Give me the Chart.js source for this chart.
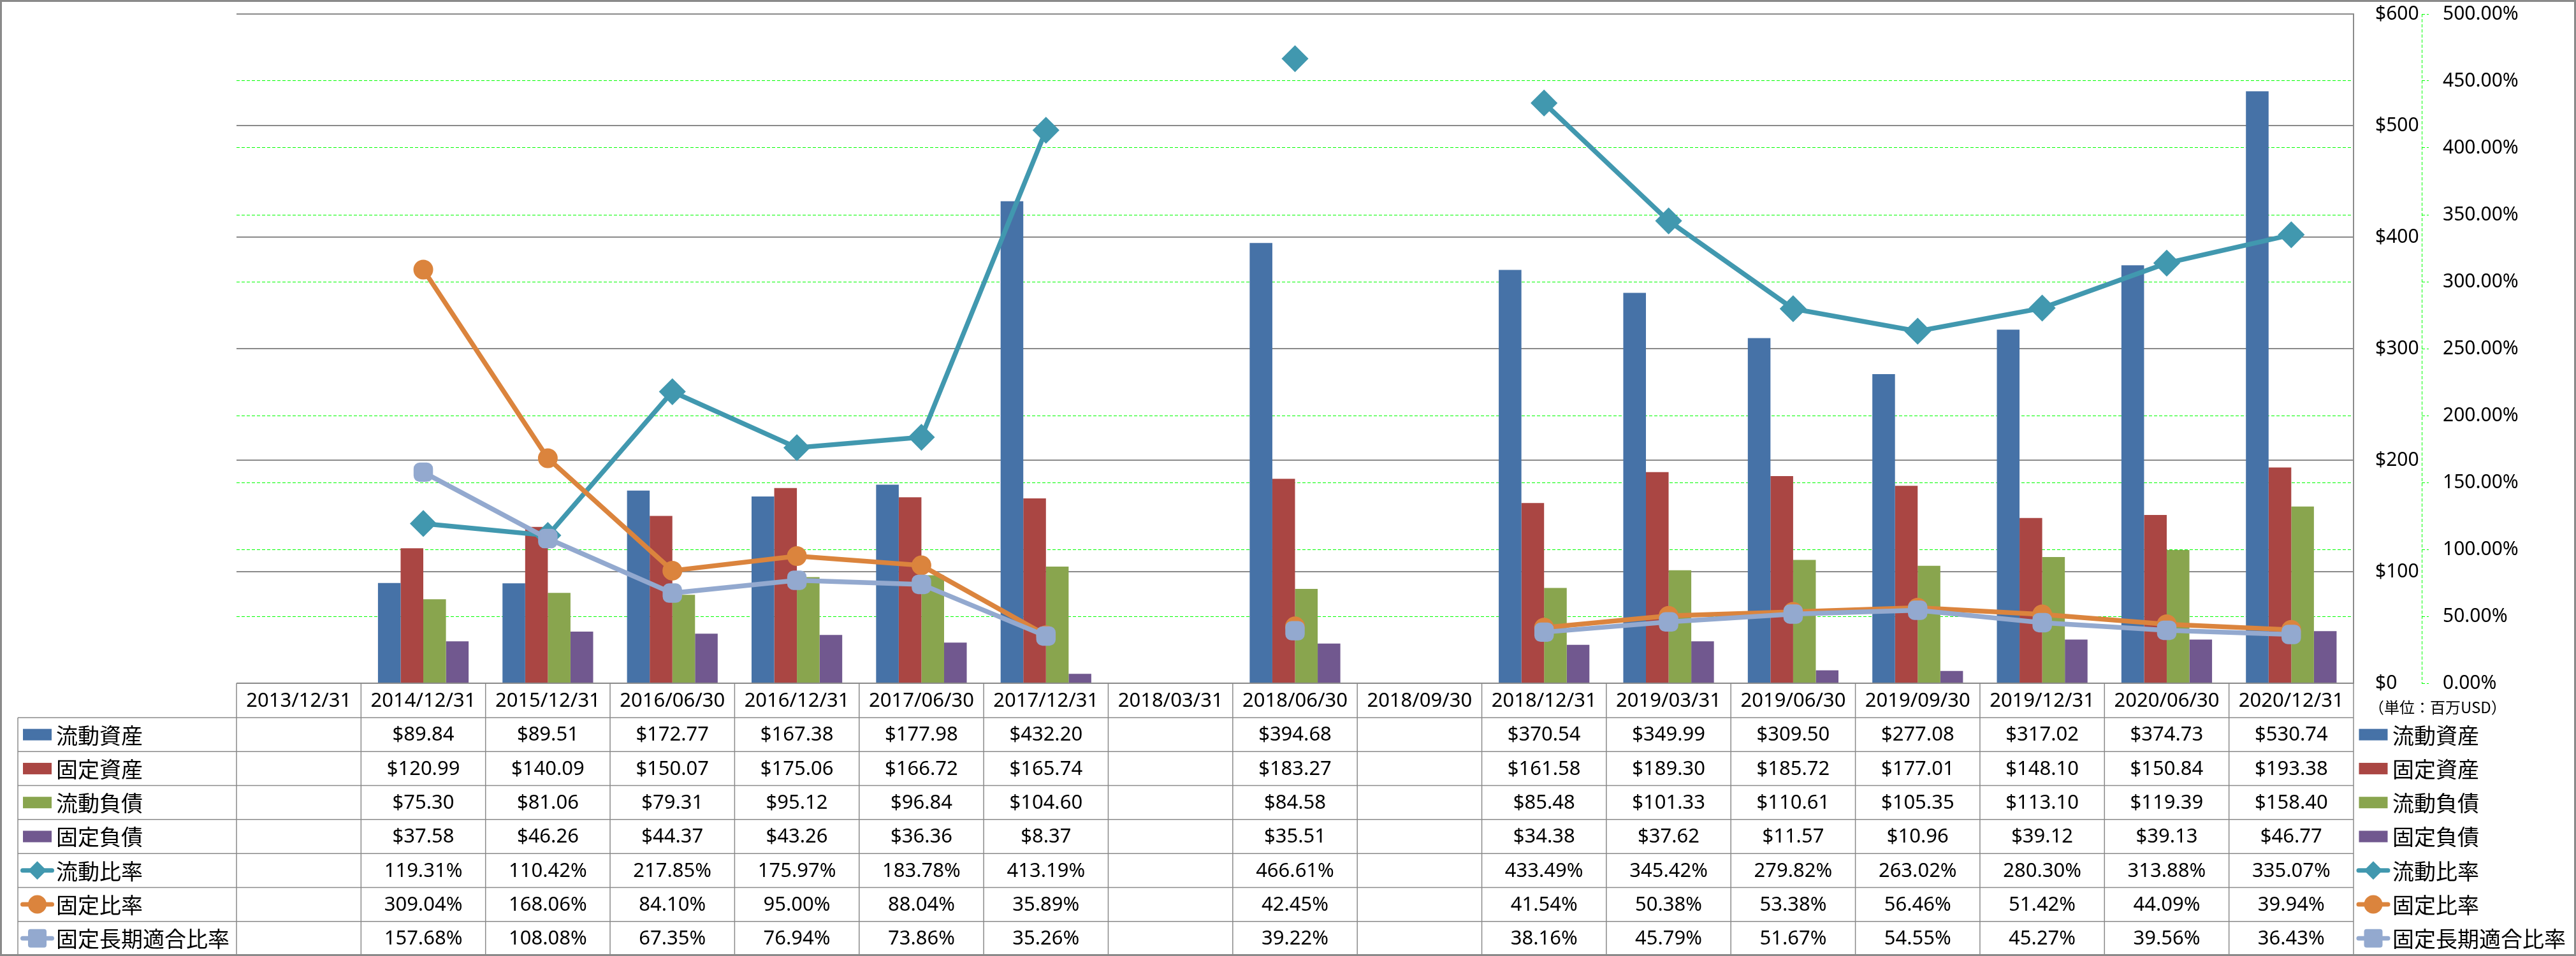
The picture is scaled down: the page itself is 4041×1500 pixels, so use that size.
<!DOCTYPE html>
<html><head><meta charset="utf-8">
<script src="https://cdn.jsdelivr.net/npm/chart.js@4.4.1/dist/chart.umd.min.js"></script>
<style>html,body{margin:0;padding:0;background:#fff;overflow:hidden}canvas{display:block}</style>
</head><body>
<canvas id="c" width="4041" height="1500"></canvas>
<script>
// ---- data ----
const categories = ['2013/12/31','2014/12/31','2015/12/31','2016/06/30','2016/12/31','2017/06/30','2017/12/31','2018/03/31','2018/06/30','2018/09/30','2018/12/31','2019/03/31','2019/06/30','2019/09/30','2019/12/31','2020/06/30','2020/12/31'];
const currentAssets   = [null,89.84,89.51,172.77,167.38,177.98,432.20,null,394.68,null,370.54,349.99,309.50,277.08,317.02,374.73,530.74];
const fixedAssets     = [null,120.99,140.09,150.07,175.06,166.72,165.74,null,183.27,null,161.58,189.30,185.72,177.01,148.10,150.84,193.38];
const currentLiab     = [null,75.30,81.06,79.31,95.12,96.84,104.60,null,84.58,null,85.48,101.33,110.61,105.35,113.10,119.39,158.40];
const fixedLiab       = [null,37.58,46.26,44.37,43.26,36.36,8.37,null,35.51,null,34.38,37.62,11.57,10.96,39.12,39.13,46.77];
const currentRatio    = [null,119.31,110.42,217.85,175.97,183.78,413.19,null,466.61,null,433.49,345.42,279.82,263.02,280.30,313.88,335.07];
const fixedRatio      = [null,309.04,168.06,84.10,95.00,88.04,35.89,null,42.45,null,41.54,50.38,53.38,56.46,51.42,44.09,39.94];
const fixedLongRatio  = [null,157.68,108.08,67.35,76.94,73.86,35.26,null,39.22,null,38.16,45.79,51.67,54.55,45.27,39.56,36.43];
const seriesNames = ['流動資産','固定資産','流動負債','固定負債','流動比率','固定比率','固定長期適合比率'];
const dollarAxis = {min:0, max:600, step:100};
const percentAxis = {min:0, max:500, step:50};
const unitLabel = '（単位：百万USD）';

// ---- style ----
const C = {blue:'#4672A7', red:'#AA4643', green:'#89A54E', purple:'#71588F', teal:'#4198AF', orange:'#DB843D', lblue:'#93A9CF', grid:'#8a8a8a', dash:'#00FF00'};
const NUM_FONT = '"Noto Sans", "Noto Sans CJK JP", sans-serif';
const CJK_FONT = '"Noto Sans CJK JP", "Noto Sans", sans-serif';

function barDs(label, data, color){
  return {type:'bar', label, data, backgroundColor:color, borderWidth:0, yAxisID:'y', order:10,
          categoryPercentage:0.728, barPercentage:1.0};
}
function lineDs(label, data, color, style, radius, order){
  return {type:'line', label, data, borderColor:color, backgroundColor:color, borderWidth:7.5,
          pointStyle:style, pointRadius:radius, pointBorderWidth:3, pointBorderColor:color,
          pointBackgroundColor:color, spanGaps:false, yAxisID:'y1', order, tension:0};
}
const datasets = [
  barDs(seriesNames[0], currentAssets, C.blue),
  barDs(seriesNames[1], fixedAssets, C.red),
  barDs(seriesNames[2], currentLiab, C.green),
  barDs(seriesNames[3], fixedLiab, C.purple),
  lineDs(seriesNames[4], currentRatio, C.teal, 'rectRot', 19, 3),
  lineDs(seriesNames[5], fixedRatio, C.orange, 'circle', 14, 2),
  lineDs(seriesNames[6], fixedLongRatio, C.lblue, 'rectRounded', 16, 1)
];

function drawKey(ctx, ds, cx, cy){
  ctx.save();
  if (ds.type === 'bar') {
    ctx.fillStyle = ds.backgroundColor;
    ctx.fillRect(cx - 22.5, cy - 9, 45, 18);
  } else {
    ctx.strokeStyle = ds.borderColor; ctx.lineWidth = 7; ctx.lineCap = 'round';
    ctx.beginPath(); ctx.moveTo(cx - 23, cy); ctx.lineTo(cx + 23, cy); ctx.stroke();
    ctx.fillStyle = ds.backgroundColor;
    ctx.beginPath();
    if (ds.pointStyle === 'rectRot') {
      const r = 14.5;
      ctx.moveTo(cx, cy - r); ctx.lineTo(cx + r, cy); ctx.lineTo(cx, cy + r); ctx.lineTo(cx - r, cy); ctx.closePath();
    } else if (ds.pointStyle === 'circle') {
      ctx.arc(cx, cy, 14.5, 0, Math.PI * 2);
    } else {
      ctx.roundRect(cx - 14.5, cy - 14.5, 29, 29, 4);
    }
    ctx.fill();
  }
  ctx.restore();
}

const tablePlugin = {
  id: 'dataTable',
  beforeDraw(chart){
    const ctx = chart.ctx;
    ctx.save(); ctx.fillStyle = '#fff'; ctx.fillRect(0, 0, chart.width, chart.height); ctx.restore();
  },
  afterDraw(chart){
    const {ctx, chartArea: ca, scales} = chart;
    const xs = scales.x, y1 = scales.y1;
    const n = categories.length;
    const colW = (ca.right - ca.left) / n;
    const headerTop = ca.bottom, headerH = 54;
    const bodyTop = headerTop + headerH;
    const bottom = chart.height - 1;
    const rowH = (bottom - bodyTop) / seriesNames.length;
    const labelLeft = 28;

    ctx.save();
    // secondary axis dashed line
    ctx.strokeStyle = C.dash; ctx.lineWidth = 1; ctx.setLineDash([5, 3]);
    ctx.beginPath(); ctx.moveTo(Math.round(y1.left) + 0.5, ca.top); ctx.lineTo(Math.round(y1.left) + 0.5, ca.bottom); ctx.stroke();
    ctx.setLineDash([]);

    // table grid
    ctx.strokeStyle = C.grid; ctx.lineWidth = 1.5;
    ctx.beginPath();
    ctx.moveTo(ca.left, headerTop); ctx.lineTo(ca.right, headerTop);
    for (let r = 0; r <= seriesNames.length; r++) {
      const yy = bodyTop + r * rowH;
      ctx.moveTo(labelLeft, yy); ctx.lineTo(ca.right, yy);
    }
    for (let k = 0; k <= n; k++) {
      const xx = k < n ? xs.getPixelForValue(k) - colW / 2 : xs.getPixelForValue(n - 1) + colW / 2;
      ctx.moveTo(xx, headerTop); ctx.lineTo(xx, bottom);
    }
    ctx.moveTo(labelLeft, bodyTop); ctx.lineTo(labelLeft, bottom);
    ctx.stroke();

    // header
    ctx.fillStyle = '#000'; ctx.textAlign = 'center'; ctx.textBaseline = 'middle';
    ctx.font = '31px ' + NUM_FONT;
    categories.forEach((c, i) => ctx.fillText(c, xs.getPixelForValue(i), headerTop + headerH / 2 + 1));

    // rows
    datasets.forEach((ds, r) => {
      const cy = bodyTop + r * rowH + rowH / 2;
      ctx.font = '31px ' + NUM_FONT; ctx.textAlign = 'center'; ctx.fillStyle = '#000';
      ds.data.forEach((v, i) => {
        if (v === null || v === undefined) return;
        const txt = ds.type === 'bar' ? '$' + v.toFixed(2) : v.toFixed(2) + '%';
        ctx.fillText(txt, xs.getPixelForValue(i), cy + 1);
      });
      // left legend
      drawKey(ctx, ds, 58.5, cy);
      ctx.font = '34px ' + CJK_FONT; ctx.textAlign = 'left'; ctx.fillStyle = '#000';
      ctx.fillText(ds.label, 88, cy + 1);
      // right legend
      drawKey(ctx, ds, 3723, cy);
      ctx.fillText(ds.label, 3753, cy + 1);
    });

    // unit label
    ctx.font = '24px ' + CJK_FONT; ctx.textAlign = 'left';
    ctx.fillText(unitLabel, 3716, headerTop + 38);

    // outer border
    ctx.strokeStyle = C.grid; ctx.lineWidth = 3;
    ctx.strokeRect(1.5, 1.5, chart.width - 3, chart.height - 3);
    ctx.restore();
  }
};

function fixPad(width){
  return function(s){ s.width = width; s.paddingTop = 0; s.paddingBottom = 0; };
}

new Chart(document.getElementById('c'), {
  type: 'bar',
  data: {labels: categories, datasets},
  plugins: [tablePlugin],
  options: {
    responsive: false, animation: false, devicePixelRatio: 1,
    layout: {padding: {left: 371, top: 22, bottom: 428, right: 0}},
    plugins: {legend: {display: false}, tooltip: {enabled: false}},
    scales: {
      x: {display: false, offset: true, grid: {display: false}},
      y: {
        position: 'right', weight: 0, min: dollarAxis.min, max: dollarAxis.max,
        afterFit: fixPad(107),
        ticks: {stepSize: dollarAxis.step, crossAlign: 'near', padding: 34, color: '#000',
                font: {family: NUM_FONT, size: 30}, callback: v => '$' + v, autoSkip: false},
        grid: {color: C.grid, lineWidth: 2, drawTicks: false, z: 0},
        border: {display: true, color: C.grid, width: 2}
      },
      y1: {
        position: 'right', weight: 1, min: percentAxis.min, max: percentAxis.max,
        afterFit: fixPad(242),
        ticks: {stepSize: percentAxis.step, crossAlign: 'near', padding: 22, color: '#000',
                font: {family: NUM_FONT, size: 30}, callback: v => v.toFixed(2) + '%', autoSkip: false},
        grid: {color: C.dash, lineWidth: 1, drawTicks: true, tickLength: 11, tickColor: C.dash,
               tickWidth: 1, tickBorderDash: [5, 3], z: -1},
        border: {display: false, dash: [5, 3]}
      }
    }
  }
});
</script>
</body></html>
